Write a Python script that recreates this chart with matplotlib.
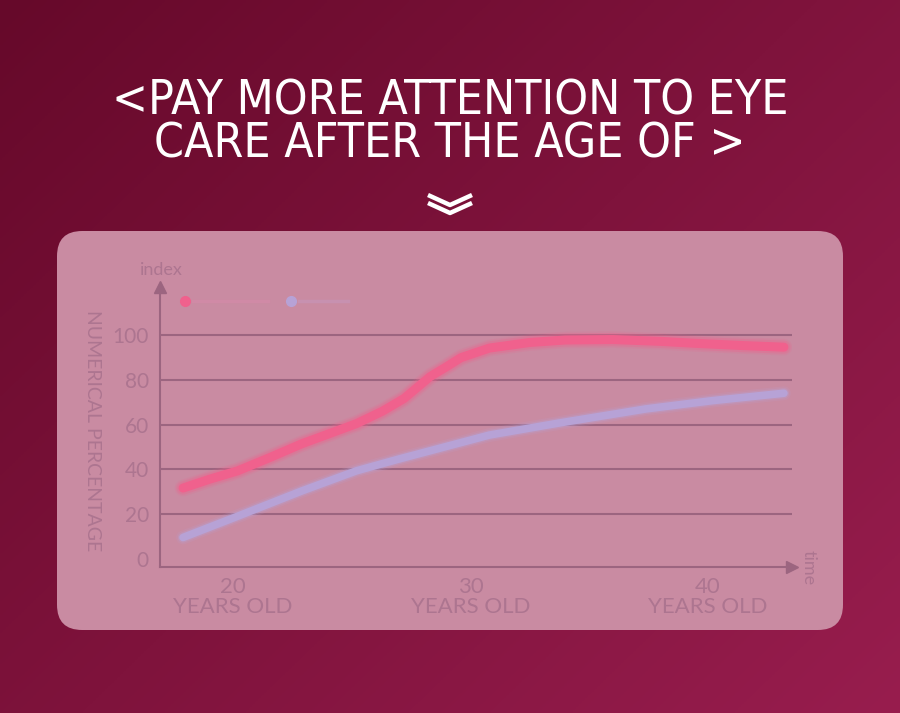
import numpy as np
import matplotlib
matplotlib.use("Agg")
import matplotlib.pyplot as plt
from matplotlib.patches import FancyBboxPatch
from matplotlib.lines import Line2D

# ---- data -------------------------------------------------------------
red_age = [17.9, 19.0, 20.2, 21.5, 22.9, 24.0, 25.2, 26.3, 27.2, 28.3, 29.0,
           29.6, 30.8, 32.5, 34.0, 36.0, 38.0, 39.5, 41.5, 43.2]
red_val = [31.6, 35.5, 39.3, 45.0, 51.4, 55.7, 60.4, 66.0, 71.6, 81.4, 85.9,
           89.9, 94.2, 96.7, 97.8, 98.0, 97.2, 96.3, 95.3, 94.6]

blue_age = [17.9, 20.2, 22.9, 25.2, 27.0, 30.8, 33.8, 37.4, 40.2, 43.2]
blue_val = [9.5, 19.0, 30.3, 39.3, 44.6, 55.3, 60.8, 67.0, 70.7, 74.0]

y_ticks = [0, 20, 40, 60, 80, 100]
x_ticks = [20, 30, 40]
x_tick_labels = ["20\nYEARS OLD", "30\nYEARS OLD", "40\nYEARS OLD"]

title_lines = ["<PAY MORE ATTENTION TO EYE", "CARE AFTER THE AGE OF >"]

# ---- styling ----------------------------------------------------------
W, H = 900, 713
RED = "#f0618d"
LAV = "#b7a2d6"
MUTED = "#ad7590"
AXIS = "#9c6580"
PANEL = "#c98ba2"
LIGHT = ["Lato", "DejaVu Sans"]

fig = plt.figure(figsize=(W / 100, H / 100), dpi=100)

# background gradient
bg = fig.add_axes([0, 0, 1, 1], zorder=-5)
bg.set_axis_off()
gx, gy = np.meshgrid(np.linspace(0, 1, 300), np.linspace(0, 1, 240))
t = np.clip(0.55 * gx + 0.45 * gy, 0, 1)
c0 = np.array([0x66, 0x09, 0x2a]) / 255
c1 = np.array([0x98, 0x1d, 0x4e]) / 255
img = c0[None, None, :] * (1 - t[..., None]) + c1[None, None, :] * t[..., None]
bg.imshow(img, extent=[0, 1, 0, 1], aspect="auto", origin="upper")
bg.set_xlim(0, 1)
bg.set_ylim(0, 1)

def fx(px):
    return px / W

def fy(py):
    return 1 - py / H

# rounded panel (drawn in the background axes so the chart sits above it)
panel = FancyBboxPatch((fx(57), fy(630)), fx(843) - fx(57), fy(231) - fy(630),
                       boxstyle="round,pad=0,rounding_size=0.028",
                       transform=bg.transAxes, facecolor=PANEL,
                       edgecolor="none", zorder=3, mutation_aspect=W / H)
bg.add_patch(panel)

# title
for i, line in enumerate(title_lines):
    fig.text(0.5, fy(101 + 43 * i), line, ha="center", va="center",
             color="white", fontsize=34.5, family="DejaVu Sans",
             fontstretch="condensed")

# double chevron
for dy in (0, 8):
    fig.lines.append(Line2D([fx(428), fx(450), fx(472)],
                            [fy(195 + dy), fy(205 + dy), fy(195 + dy)],
                            transform=fig.transFigure, color="white",
                            lw=3.2, solid_capstyle="butt", zorder=3))

# ---- chart axes -------------------------------------------------------
left, right = 160, 792
top, bottom = 287, 567
ax = fig.add_axes([fx(left), fy(bottom), fx(right) - fx(left), fy(top) - fy(bottom)],
                  zorder=2)
ax.set_facecolor("none")
ax.set_xlim(16.93, 43.54)
ax.set_ylim(-3.7, 121.5)

for s in ("top", "right"):
    ax.spines[s].set_visible(False)
for s in ("left", "bottom"):
    ax.spines[s].set_color(AXIS)
    ax.spines[s].set_linewidth(1.5)

ax.set_yticks(y_ticks)
ax.set_yticklabels([str(v) for v in y_ticks], family=LIGHT,
                   fontsize=15, color=MUTED)
ax.set_xticks(x_ticks)
ax.set_xticklabels(x_tick_labels, family=LIGHT,
                   fontsize=16, color=MUTED, linespacing=1.0)
ax.tick_params(axis="both", length=0)
ax.tick_params(axis="y", pad=8)
ax.tick_params(axis="x", pad=7)

for v in y_ticks[1:]:
    ax.axhline(v, color=AXIS, lw=1.5, zorder=1)

# arrows at the ends of the axes
ax.plot([16.93], [121.5], marker="^", ms=9, color=AXIS, clip_on=False, zorder=4)
ax.plot([43.54], [-3.7], marker=">", ms=9, color=AXIS, clip_on=False, zorder=4)

# soft glow + curve
for lw, a in ((12, 0.15), (9.5, 0.3)):
    ax.plot(blue_age, blue_val, color=LAV, lw=lw - 2, alpha=a,
            solid_capstyle="round", zorder=2)
    ax.plot(red_age, red_val, color=RED, lw=lw, alpha=a,
            solid_capstyle="round", zorder=3)
ax.plot(blue_age, blue_val, color=LAV, lw=5.5, solid_capstyle="round",
        solid_joinstyle="round", zorder=2)
ax.plot(red_age, red_val, color=RED, lw=6.5, solid_capstyle="round",
        solid_joinstyle="round", zorder=3)

# axis captions
fig.text(fx(161), fy(270), "index", ha="center", va="center", color=MUTED,
         fontsize=13, family=LIGHT)
fig.text(fx(809), fy(568), "time", ha="center", va="center", color=MUTED,
         fontsize=13, family=LIGHT, rotation=-90)
fig.text(fx(92), fy(431), "NUMERICAL PERCENTAGE", ha="center", va="center",
         color=MUTED, fontsize=14, family=LIGHT, rotation=-90)

# legend markers
for x0, x1, col, lcol in ((185, 268, RED, "#d08aa6"), (291, 348, LAV, "#c791b0")):
    fig.lines.append(Line2D([fx(x0 + 8), fx(x1)], [fy(301), fy(301)],
                            transform=fig.transFigure, color=lcol, lw=2.5, zorder=3))
    fig.lines.append(Line2D([fx(x0)], [fy(301)], transform=fig.transFigure,
                            marker="o", ms=7, color=col, zorder=4))

fig.savefig("out.png", dpi=100)
